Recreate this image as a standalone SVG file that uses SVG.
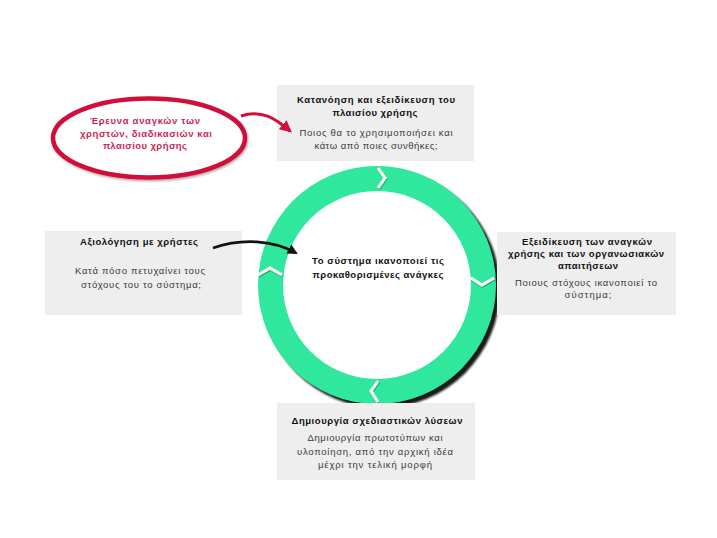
<svg xmlns="http://www.w3.org/2000/svg" width="717" height="538" viewBox="0 0 717 538">
<style>
.box{fill:#eeeeee}
.t{font-family:"Liberation Sans",Arial,sans-serif;font-size:9.5px;text-anchor:middle}
.b{font-weight:bold;fill:#111}
.s{fill:#3a3a3a}
.r{font-weight:bold;fill:#cc1f55}
.chev{fill:none;stroke:#ffffff;stroke-width:3;stroke-linejoin:miter}
</style>
<defs>
<filter id="sh" x="-20%" y="-20%" width="140%" height="140%">
<feGaussianBlur stdDeviation="1.1"/>
</filter>
<filter id="csh" x="-50%" y="-50%" width="200%" height="200%">
<feDropShadow dx="0.5" dy="1" stdDeviation="0.6" flood-color="#000" flood-opacity="0.45"/>
</filter>
<filter id="esh" x="-10%" y="-20%" width="120%" height="140%">
<feDropShadow dx="1" dy="1.5" stdDeviation="0.8" flood-color="#000" flood-opacity="0.35"/>
</filter>
<marker id="ahR" viewBox="0 0 10 10" refX="8" refY="5" markerWidth="4" markerHeight="4" orient="auto" markerUnits="strokeWidth">
<path d="M0,0 L10,5 L0,10 z" fill="#d0103a"/>
</marker>
<marker id="ahK" viewBox="0 0 10 10" refX="8" refY="5" markerWidth="4" markerHeight="4" orient="auto" markerUnits="strokeWidth">
<path d="M0,0 L10,5 L0,10 z" fill="#111"/>
</marker>
</defs>
<rect width="717" height="538" fill="#ffffff"/>

<g id="ring">
<circle cx="381" cy="289" r="119" fill="#000" opacity="0.9" filter="url(#sh)"/>
<circle cx="377" cy="285" r="119" fill="#2fe89e"/>
<circle cx="377" cy="285" r="94" fill="#ffffff"/>
<g filter="url(#csh)">
<path class="chev" d="M378,168 L385,178 L378,188"/>
<path class="chev" d="M471,278 L482,285 L494,278"/>
<path class="chev" d="M378,381 L371,391 L378,402"/>
<path class="chev" d="M258,275 L270,268 L282,275"/>
</g>
<text class="t b" x="378" y="264" textLength="132" lengthAdjust="spacing">Το σύστημα ικανοποιεί τις</text>
<text class="t b" x="378" y="278" textLength="131" lengthAdjust="spacing">προκαθορισμένες ανάγκες</text>
</g>

<g id="node-top">
<rect class="box" x="277" y="85" width="197" height="76"/>
<text class="t b" x="376" y="103" textLength="158" lengthAdjust="spacing">Κατανόηση και εξειδίκευση του</text>
<text class="t b" x="375" y="116" textLength="85" lengthAdjust="spacing">πλαισίου χρήσης</text>
<text class="t s" x="376" y="136" textLength="153" lengthAdjust="spacing">Ποιος θα το χρησιμοποιήσει και</text>
<text class="t s" x="376" y="149" textLength="123" lengthAdjust="spacing">κάτω από ποιες συνθήκες;</text>
</g>

<g id="node-left">
<rect class="box" x="45" y="231" width="197" height="84"/>
<text class="t b" x="139" y="245" textLength="118" lengthAdjust="spacing">Αξιολόγηση με χρήστες</text>
<text class="t s" x="140" y="274" textLength="130" lengthAdjust="spacing">Κατά πόσο πετυχαίνει τους</text>
<text class="t s" x="141" y="288" textLength="120" lengthAdjust="spacing">στόχους του το σύστημα;</text>
</g>

<g id="node-right">
<rect class="box" x="497" y="232" width="179" height="83"/>
<text class="t b" x="587" y="245" textLength="130" lengthAdjust="spacing">Εξειδίκευση των αναγκών</text>
<text class="t b" x="586" y="257" textLength="156" lengthAdjust="spacing">χρήσης και των οργανωσιακών</text>
<text class="t b" x="588" y="269" textLength="60" lengthAdjust="spacing">απαιτήσεων</text>
<text class="t s" x="586" y="286" textLength="142" lengthAdjust="spacing">Ποιους στόχους ικανοποιεί το</text>
<text class="t s" x="588" y="298" textLength="47" lengthAdjust="spacing">σύστημα;</text>
</g>

<g id="node-bottom">
<rect class="box" x="277" y="403" width="198" height="77"/>
<text class="t b" x="377" y="424" textLength="171" lengthAdjust="spacing">Δημιουργία σχεδιαστικών λύσεων</text>
<text class="t s" x="375" y="441" textLength="135" lengthAdjust="spacing">Δημιουργία πρωτοτύπων και</text>
<text class="t s" x="375" y="455" textLength="156" lengthAdjust="spacing">υλοποίηση, από την αρχική ιδέα</text>
<text class="t s" x="375" y="468" textLength="114" lengthAdjust="spacing">μέχρι την τελική μορφή</text>
</g>

<g id="node-callout">
<ellipse cx="149" cy="138" rx="96" ry="39.5" fill="#ffffff" stroke="#d0103a" stroke-width="4.5" filter="url(#esh)"/>
<text class="t r" x="145" y="124" textLength="110" lengthAdjust="spacing">Έρευνα αναγκών των</text>
<text class="t r" x="146" y="137" textLength="132" lengthAdjust="spacing">χρηστών, διαδικασιών και</text>
<text class="t r" x="145" y="149" textLength="84" lengthAdjust="spacing">πλαισίου χρήσης</text>
</g>

<g id="connectors">
<path d="M241,116 C262,109 276,119 290,131" fill="none" stroke="#d0103a" stroke-width="3" marker-end="url(#ahR)"/>
<path d="M213,248 C242,238 273,240 296,253" fill="none" stroke="#111" stroke-width="2.6" marker-end="url(#ahK)"/>
</g>
</svg>
